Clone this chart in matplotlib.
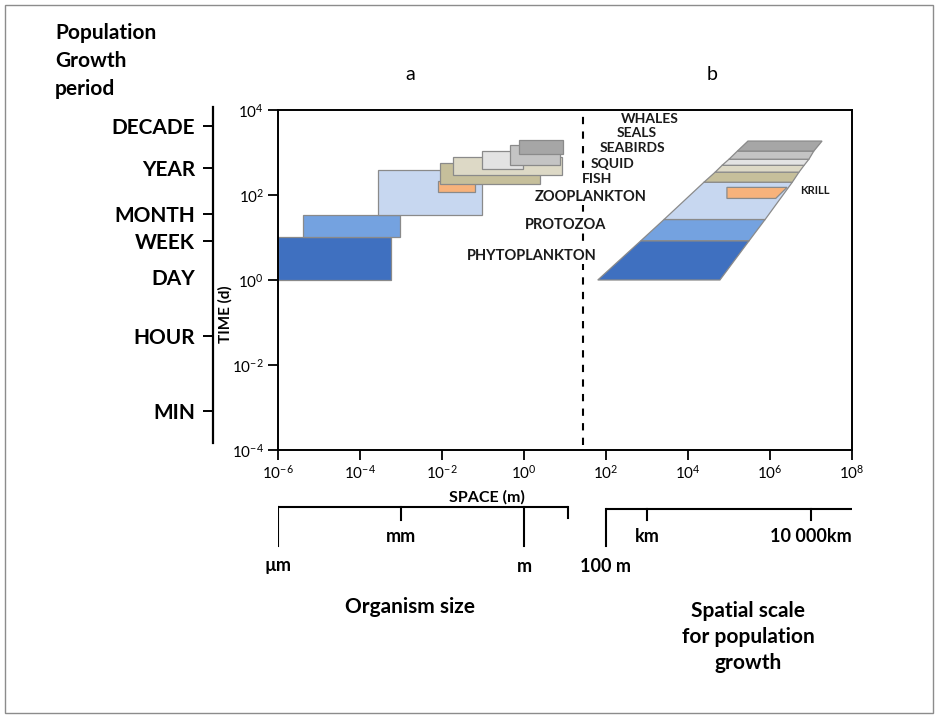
import matplotlib
matplotlib.use("Agg")
import matplotlib.pyplot as plt
from matplotlib.patches import Polygon, Rectangle

plt.rcParams["font.family"] = ["Lato", "DejaVu Sans"]
plt.rcParams["mathtext.fontset"] = "custom"
plt.rcParams["mathtext.rm"] = "Lato"
plt.rcParams["mathtext.it"] = "Lato:italic"
plt.rcParams["mathtext.bf"] = "Lato:bold"

# --- panel a: organism size (m) vs population growth time (d) ---
a_groups = ["PHYTOPLANKTON", "PROTOZOA", "ZOOPLANKTON", "KRILL", "FISH",
            "SQUID", "SEABIRDS", "SEALS", "WHALES"]
a_size_lo = [1e-6, 4e-6, 2.8e-4, 7.9e-3, 8.9e-3, 1.9e-2, 9.5e-2, 0.46, 0.76]
a_size_hi = [5.8e-4, 9.5e-4, 9.5e-2, 6.3e-2, 2.45, 8.5, 0.95, 7.6, 8.9]
a_time_lo = [1.0, 10.4, 33, 115, 178, 290, 405, 500, 910]
a_time_hi = [10.4, 33, 380, 209, 560, 780, 1080, 1510, 1950]

# --- panel b: spatial scale of population growth, stacked bands ---
b_groups = ["PHYTOPLANKTON", "PROTOZOA", "ZOOPLANKTON", "FISH",
            "SQUID", "SEABIRDS", "SEALS", "WHALES"]
b_time_edges = [1.0, 8.4, 26.5, 200, 345, 500, 695, 1080, 1860]
b_left_edges = [63, 710, 2.6e3, 2.45e4, 4.6e4, 6.8e4, 1.0e5, 1.6e5, 2.9e5]
b_right_edges = [6.0e4, 3.1e5, 7.6e5, 3.5e6, 5.1e6, 6.8e6, 8.9e6, 1.17e7, 1.86e7]
krill_b_time = [83, 151]
krill_b_left = [8.9e4, 8.9e4]
krill_b_right = [1.38e6, 2.6e6]

divider_m = 27.5  # boundary between the two panels

colors = {
    "PHYTOPLANKTON": "#3f70c0",
    "PROTOZOA": "#74a2e0",
    "ZOOPLANKTON": "#c7d7f0",
    "KRILL": "#f7b27b",
    "FISH": "#c6bf9b",
    "SQUID": "#ddd9c6",
    "SEABIRDS": "#e3e3e3",
    "SEALS": "#c4c4c4",
    "WHALES": "#a6a6a6",
}
edge = "#8a8a8a"

# left "population growth period" scale, in days
period_labels = ["DECADE", "YEAR", "MONTH", "WEEK", "DAY", "HOUR", "MIN"]
period_days = [3650, 365, 30, 7, 1, 1 / 24, 1 / 1440]

# bottom brackets
org_ticks = [1e-6, 1e-3, 1.0]
org_labels = ["µm", "mm", "m"]
org_end = 12.0
spat_ticks = [100, 1e3, 1e7]
spat_labels = ["100 m", "km", "10 000km"]
spat_end = 1e8

W, H = 938, 720
fig = plt.figure(figsize=(W / 100, H / 100), dpi=100)


def fx(x):
    return x / W


def fy(y):
    return 1 - y / H


ax = fig.add_axes([fx(278), fy(450), 574 / W, 340 / H])
ax.set_xscale("log")
ax.set_yscale("log")
ax.set_xlim(1e-6, 1e8)
ax.set_ylim(1e-4, 1e4)
ax.set_xticks([10.0 ** k for k in range(-6, 9, 2)])
ax.set_yticks([10.0 ** k for k in range(-4, 5, 2)])
ax.minorticks_off()
ax.tick_params(direction="out", length=7, width=1.3, labelsize=11, pad=3)
for s in ax.spines.values():
    s.set_linewidth(1.4)

# panel a boxes
for i, g in enumerate(a_groups):
    ax.add_patch(Rectangle((a_size_lo[i], a_time_lo[i]),
                           a_size_hi[i] - a_size_lo[i], a_time_hi[i] - a_time_lo[i],
                           facecolor=colors[g], edgecolor=edge, lw=0.9, zorder=2 + i))

# panel b bands
for i, g in enumerate(b_groups):
    pts = [(b_left_edges[i], b_time_edges[i]), (b_right_edges[i], b_time_edges[i]),
           (b_right_edges[i + 1], b_time_edges[i + 1]), (b_left_edges[i + 1], b_time_edges[i + 1])]
    ax.add_patch(Polygon(pts, closed=True, facecolor=colors[g], edgecolor=edge,
                         lw=0.9, zorder=2))
kpts = [(krill_b_left[0], krill_b_time[0]), (krill_b_right[0], krill_b_time[0]),
        (krill_b_right[1], krill_b_time[1]), (krill_b_left[1], krill_b_time[1])]
ax.add_patch(Polygon(kpts, closed=True, facecolor=colors["KRILL"], edgecolor=edge,
                     lw=0.9, zorder=3))

ax.axvline(divider_m, ymin=0.015, ymax=1.0, color="black", lw=1.5,
           ls=(0, (3.5, 3.5)), zorder=1)

ax.set_xlabel("SPACE (m)", fontsize=11.5, fontweight="bold")
ax.xaxis.set_label_coords((487 - 278) / 574, (450 - 490) / 340)
ax.set_ylabel("TIME (d)", fontsize=11, fontweight="bold")
ax.yaxis.set_label_coords((233 - 278) / 574, (450 - 314) / 340)

# group names in the middle
names = [("WHALES", 650, 119, 10), ("SEALS", 637, 133, 10), ("SEABIRDS", 632, 148, 10),
         ("FISH", 597, 179, 10), ("SQUID", 613, 164, 10), ("ZOOPLANKTON", 591, 197, 10.5),
         ("PROTOZOA", 566, 225, 10.5), ("PHYTOPLANKTON", 532, 256, 10.5), ("KRILL", 815, 190, 8)]
boxed = {"FISH", "ZOOPLANKTON", "PROTOZOA", "PHYTOPLANKTON"}
for txt, x, y, size in names:
    bb = dict(facecolor="white", edgecolor="none", pad=1.0) if txt in boxed else None
    fig.text(fx(x), fy(y), txt, ha="center", va="center", fontsize=size,
             fontweight="bold", color="#1a1a1a", bbox=bb, zorder=5)

fig.text(fx(410), fy(75), "a", ha="center", va="center", fontsize=14)
fig.text(fx(712), fy(75), "b", ha="center", va="center", fontsize=14)

# left period scale (same log time scale as the main axes)
axp = fig.add_axes([fx(213), fy(443), 0.0005, 336 / H])
axp.set_yscale("log")
axp.set_ylim(10 ** -3.9, 10 ** 4.0)
axp.set_xticks([])
axp.minorticks_off()
for k in ["top", "right", "bottom"]:
    axp.spines[k].set_visible(False)
axp.spines["left"].set_linewidth(1.6)
axp.set_yticks(period_days, period_labels, fontsize=15, fontweight="bold")
axp.tick_params(axis="y", length=7, width=1.4, pad=6)
axp.yaxis.get_major_ticks()[period_labels.index("DAY")].tick1line.set_visible(False)
axp.patch.set_visible(False)

fig.text(fx(55), fy(61), "Population\nGrowth\nperiod", ha="left", va="center",
         fontsize=15, fontweight="bold", linespacing=1.5)

# bottom brackets
axb = fig.add_axes([fx(278), fy(620), 574 / W, 120 / H])
axb.set_xscale("log")
axb.set_xlim(1e-6, 1e8)
axb.set_ylim(620, 500)
axb.axis("off")
lw_b = 1.5
axb.plot([org_ticks[0], org_end], [507, 507], color="black", lw=lw_b, solid_capstyle="butt")
axb.plot([org_end, org_end], [507, 518], color="black", lw=lw_b)
axb.plot([spat_ticks[0], spat_end], [509, 509], color="black", lw=lw_b, solid_capstyle="butt")
long_ticks = {"µm", "m", "100 m"}
for xs, labs, y0 in [(org_ticks, org_labels, 507), (spat_ticks, spat_labels, 509)]:
    for xv, lab in zip(xs, labs):
        is_long = lab in long_ticks
        axb.plot([xv, xv], [y0, 546 if is_long else 520], color="black", lw=lw_b)
        axb.text(xv, 566 if is_long else 537, lab, ha="center", va="center",
                 fontsize=13, fontweight="bold")

fig.text(fx(410), fy(607), "Organism size", ha="center", va="center",
         fontsize=15, fontweight="bold")
fig.text(fx(748), fy(637), "Spatial scale\nfor population\ngrowth", ha="center",
         va="center", fontsize=15, fontweight="bold", linespacing=1.4)

# outer frame
fig.patches.append(Rectangle((fx(5), fy(713)), (933 - 5) / W, (713 - 5) / H,
                             transform=fig.transFigure, fill=False,
                             edgecolor="#8c8c8c", lw=1.0))

fig.savefig("out.png", dpi=100)
